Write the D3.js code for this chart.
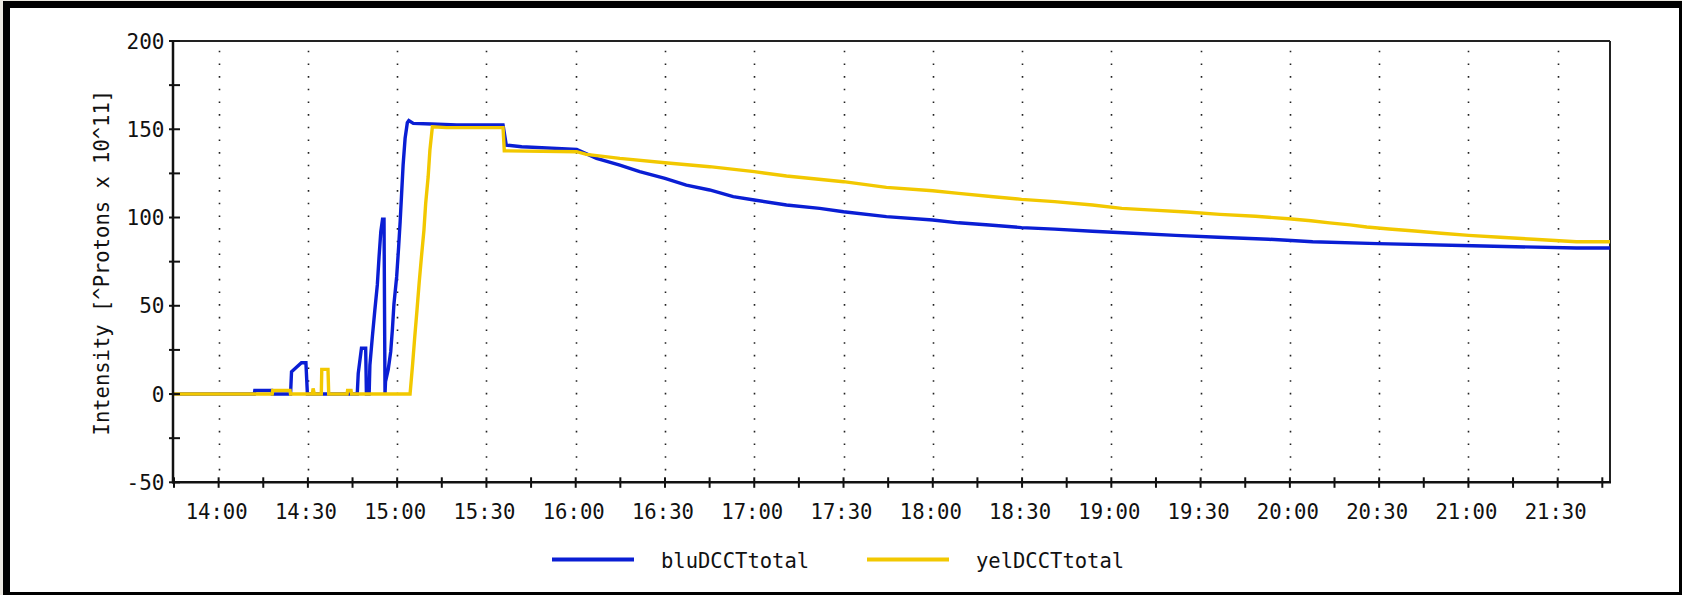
<!DOCTYPE html>
<html><head><meta charset="utf-8">
<script src="https://cdn.jsdelivr.net/npm/d3@7"></script>
<style>
html,body{margin:0;padding:0;background:#ebe8e1;}
svg{display:block;}
text{font-family:"DejaVu Sans Mono","Liberation Mono",monospace;fill:#111;}
</style></head><body>
<svg id="chart" width="1682" height="595"></svg>
<script>
// ---- data ----
const timeDomain = ["13:44:40", "21:47:35"];
const yDomain = [-50, 200];
const xTickLabels = ["14:00","14:30","15:00","15:30","16:00","16:30","17:00","17:30","18:00","18:30","19:00","19:30","20:00","20:30","21:00","21:30"];
const yTickLabels = ["-50","0","50","100","150","200"];
const yMinorTicks = [-25, 25, 75, 125, 175];
const seriesNames = ["bluDCCTtotal", "yelDCCTtotal"];
const seriesColors = ["#0a1ed4", "#f2c800"];
const yAxisTitle = "Intensity [^Protons x 10^11]";

const bluTimes = ["13:44:40","14:12:00","14:12:10","14:17:50","14:18:00","14:24:10","14:24:30","14:27:50","14:29:20","14:29:50",
  "14:46:35","14:46:55","14:48:00","14:49:25","14:49:40","14:50:35","14:50:50","14:51:40","14:52:30","14:53:20","14:53:55",
  "14:54:30","14:55:05","14:55:35","14:55:55","14:56:05","14:57:00","14:57:50","14:58:25","14:58:55","14:59:50","15:00:30",
  "15:01:00","15:01:30","15:02:00","15:02:40","15:03:25","15:03:55","15:05:25","15:11:35","15:20:00","15:35:35","15:36:40",
  "15:41:50","16:00:20","16:07:00","16:14:50","16:21:30","16:30:00","16:37:10","16:45:00","16:52:55","17:00:00","17:10:50",
  "17:22:00","17:30:00","17:44:25","18:00:00","18:08:40","18:19:00","18:29:50","18:40:55","18:53:40","19:07:20","19:21:35",
  "19:35:55","19:52:50","20:07:40","20:29:35","21:01:25","21:36:20","21:47:35"];
const bluValues = [0,0,2,2,0,0,12.6,17.7,17.7,0,
  0,11.7,25.9,25.9,0,0,16.4,32.5,47.6,61.8,77.8,
  92,99,99,0,7,14,24,37,51,66.5,83.5,
  97.6,113.7,129.8,144.9,153.7,154.9,153.3,153,152.4,152.4,141,
  140.1,138.6,133.5,129.7,126,122.2,118.4,115.6,111.8,109.9,107.1,
  105.2,103.3,100.5,98.6,97,95.8,94.3,93.4,92.2,91.1,89.9,
  88.8,87.7,86.3,85.2,84,82.7,82.7];

const yelTimes = ["13:44:40","14:18:00","14:18:10","14:24:00","14:24:10","14:31:30","14:31:45","14:32:10","14:34:30","14:34:40",
  "14:36:45","14:37:00","14:43:10","14:43:20","14:44:30","14:44:40","15:04:20","15:05:10","15:05:55","15:06:40","15:07:25",
  "15:08:10","15:09:00","15:09:35","15:10:25","15:11:00","15:11:50","15:16:35","15:35:35","15:36:00","16:00:20","16:03:35",
  "16:14:50","16:30:00","16:45:00","17:00:00","17:10:50","17:30:00","17:44:25","18:00:00","18:08:40","18:20:20","18:29:50",
  "18:40:55","18:53:40","19:03:30","19:14:00","19:25:20","19:36:30","19:48:25","19:59:35","20:07:05","20:13:20","20:20:10",
  "20:25:50","20:33:20","20:42:00","20:50:50","21:00:05","21:10:40","21:21:55","21:36:20","21:47:35"];
const yelValues = [0,0,2,2,0,0,3.2,0,0,14,
  14,0,0,2,2,0,0,16.4,32.5,47.6,63.6,
  77.8,92.9,108,123.1,138.2,151.4,150.9,150.9,137.8,137.3,135.8,
  133.5,131,128.8,126,123.5,120.3,117.1,115.2,113.7,111.8,110.3,
  109,107.1,105.2,104.2,103.1,101.8,100.7,99.3,98.2,97,95.8,
  94.6,93.5,92.4,91.1,89.9,88.8,87.7,86.3,86.3];

// ---- layout ----
const W = 1682, H = 595;
const plot = {left: 173, right: 1610, top: 41, bottom: 482.3};
const parseT = d3.timeParse("%H:%M:%S");
const parseHM = d3.timeParse("%H:%M");

const svg = d3.select("#chart");

// outer frame
svg.append("rect").attr("x", 3).attr("y", 1).attr("width", W - 3).attr("height", H - 1).attr("fill", "#000");
svg.append("rect").attr("x", 10).attr("y", 8).attr("width", W - 3 - 10).attr("height", H - 3 - 8).attr("fill", "#fff");

const x = d3.scaleTime().domain(timeDomain.map(parseT)).range([plot.left, plot.right]);
const y = d3.scaleLinear().domain(yDomain).range([plot.bottom, plot.top]);

const xMajor = xTickLabels.map(parseHM);
const xMinor = d3.timeMinute.every(15).range(x.domain()[0], x.domain()[1]).filter(d => d.getMinutes() % 30 !== 0);

// dotted vertical gridlines
const dotStep = 12.67;
svg.append("g").selectAll("line").data(xMajor).join("line")
  .attr("x1", d => Math.round(x(d)) + 0.5).attr("x2", d => Math.round(x(d)) + 0.5)
  .attr("y1", plot.bottom - dotStep + 0.8).attr("y2", plot.top + 8)
  .attr("stroke", "#222").attr("stroke-width", 1.6)
  .attr("stroke-dasharray", `1.6 ${dotStep - 1.6}`);

// plot box top/right
svg.append("line").attr("x1", plot.left).attr("x2", plot.right).attr("y1", plot.top).attr("y2", plot.top)
  .attr("stroke", "#222").attr("stroke-width", 2);
svg.append("line").attr("x1", plot.right).attr("x2", plot.right).attr("y1", plot.top).attr("y2", plot.bottom)
  .attr("stroke", "#222").attr("stroke-width", 2);

// series lines
const series = [
  {name: seriesNames[0], color: seriesColors[0], pts: bluTimes.map((t, i) => [parseT(t), bluValues[i]])},
  {name: seriesNames[1], color: seriesColors[1], pts: yelTimes.map((t, i) => [parseT(t), yelValues[i]])}
];
const line = d3.line().x(d => x(d[0])).y(d => y(d[1]));
svg.append("g").selectAll("path").data(series).join("path")
  .attr("d", d => line(d.pts))
  .attr("fill", "none").attr("stroke", d => d.color).attr("stroke-width", 3.4)
  .attr("stroke-linejoin", "miter");

// axes lines
svg.append("line").attr("x1", plot.left).attr("x2", plot.left).attr("y1", plot.top - 1).attr("y2", plot.bottom + 1)
  .attr("stroke", "#111").attr("stroke-width", 2.5);
svg.append("line").attr("x1", plot.left - 1).attr("x2", plot.right + 1).attr("y1", plot.bottom).attr("y2", plot.bottom)
  .attr("stroke", "#111").attr("stroke-width", 2.5);

// x ticks (crossing the axis)
svg.append("g").selectAll("line").data(xMajor.concat(xMinor)).join("line")
  .attr("x1", d => x(d)).attr("x2", d => x(d))
  .attr("y1", plot.bottom - 5).attr("y2", plot.bottom + 5.5)
  .attr("stroke", "#111").attr("stroke-width", 2);

// x labels
svg.append("g").selectAll("text").data(xTickLabels).join("text")
  .attr("x", d => x(parseHM(d)) - 2).attr("y", 512)
  .attr("text-anchor", "middle").attr("dominant-baseline", "central")
  .attr("font-size", 20.6).text(d => d);

// y ticks
const yMajor = yTickLabels.map(Number);
svg.append("g").selectAll("line").data(yMajor.concat(yMinorTicks)).join("line")
  .attr("x1", plot.left - 4).attr("x2", plot.left + 7)
  .attr("y1", d => y(d)).attr("y2", d => y(d))
  .attr("stroke", "#111").attr("stroke-width", 2);

// y labels
svg.append("g").selectAll("text").data(yTickLabels).join("text")
  .attr("x", 164.5).attr("y", d => y(+d) + 0.5)
  .attr("text-anchor", "end").attr("dominant-baseline", "central")
  .attr("font-size", 21).text(d => d);

// y title
svg.append("text")
  .attr("transform", `translate(102,${(plot.top + plot.bottom) / 2 + 1}) rotate(-90)`)
  .attr("text-anchor", "middle").attr("dominant-baseline", "central")
  .attr("font-size", 20.5).text(yAxisTitle);

// legend
const legendX = [552, 867];
const lg = svg.append("g").selectAll("g").data(series).join("g")
  .attr("transform", (d, i) => `translate(${legendX[i]},559.5)`);
lg.append("line").attr("x1", 0).attr("x2", 82).attr("y1", 0).attr("y2", 0)
  .attr("stroke", d => d.color).attr("stroke-width", 4);
lg.append("text").attr("x", 109).attr("y", 1.5).attr("dominant-baseline", "central")
  .attr("font-size", 20.5).text(d => d.name);
</script>
</body></html>
